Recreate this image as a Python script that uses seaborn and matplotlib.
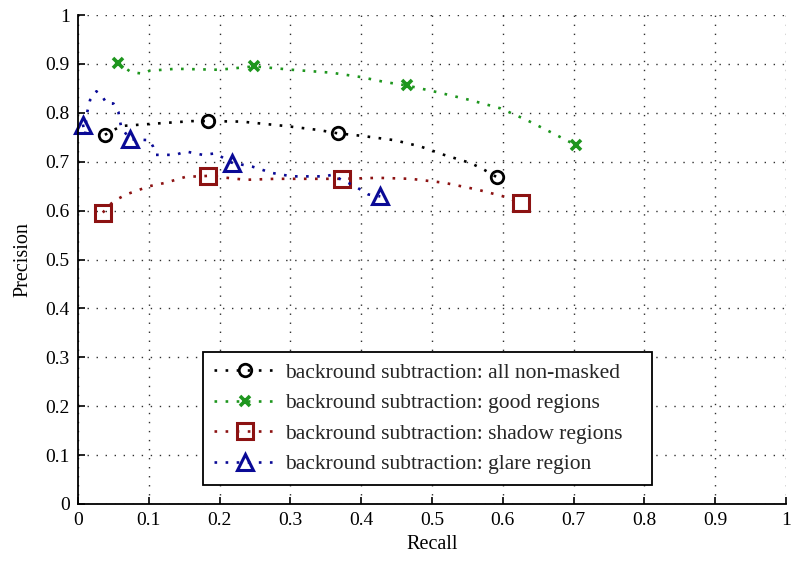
import numpy as np
import pandas as pd
import matplotlib
matplotlib.use("Agg")
import matplotlib.pyplot as plt
import seaborn as sns

# ---- data ----
all_recall = [0.038, 0.061, 0.110, 0.161, 0.184, 0.231, 0.293, 0.339, 0.367,
              0.400, 0.447, 0.484, 0.517, 0.555, 0.573, 0.592]
all_prec = [0.755, 0.773, 0.778, 0.783, 0.783, 0.782, 0.773, 0.765, 0.758,
            0.753, 0.744, 0.731, 0.714, 0.697, 0.684, 0.668]
all_marks = [0, 4, 8, 15]

good_recall = [0.057, 0.075, 0.092, 0.101, 0.138, 0.199, 0.249, 0.302, 0.358,
               0.400, 0.433, 0.464, 0.508, 0.554, 0.597, 0.634, 0.671, 0.703]
good_prec = [0.902, 0.883, 0.880, 0.886, 0.890, 0.888, 0.895, 0.888, 0.882,
             0.873, 0.863, 0.856, 0.842, 0.826, 0.809, 0.785, 0.758, 0.734]
good_marks = [0, 6, 11, 17]

shadow_recall = [0.035, 0.050, 0.068, 0.101, 0.124, 0.152, 0.184, 0.237, 0.279,
                 0.325, 0.373, 0.424, 0.470, 0.517, 0.564, 0.601, 0.625]
shadow_prec = [0.596, 0.619, 0.633, 0.650, 0.657, 0.669, 0.671, 0.663, 0.665,
               0.665, 0.665, 0.667, 0.665, 0.657, 0.643, 0.629, 0.616]
shadow_marks = [0, 6, 10, 16]

glare_recall = [0.007, 0.010, 0.012, 0.017, 0.026, 0.035, 0.040, 0.050, 0.057,
                0.059, 0.061, 0.073, 0.101, 0.106, 0.110, 0.138, 0.152, 0.176,
                0.194, 0.217, 0.246, 0.274, 0.302, 0.349, 0.358, 0.377, 0.391,
                0.410, 0.427]
glare_prec = [0.776, 0.755, 0.795, 0.826, 0.844, 0.832, 0.820, 0.819, 0.802,
              0.785, 0.771, 0.746, 0.744, 0.731, 0.714, 0.714, 0.721, 0.714,
              0.717, 0.698, 0.690, 0.677, 0.670, 0.670, 0.673, 0.660, 0.650,
              0.633, 0.629]
glare_marks = [0, 11, 19, 28]

labels = ["backround subtraction: all non-masked",
          "backround subtraction: good regions",
          "backround subtraction: shadow regions",
          "backround subtraction: glare region"]
ticks = [0, 0.1, 0.2, 0.3, 0.4, 0.5, 0.6, 0.7, 0.8, 0.9, 1]
tick_labels = ["0", "0.1", "0.2", "0.3", "0.4", "0.5", "0.6", "0.7", "0.8", "0.9", "1"]

series = [
    (all_recall, all_prec, all_marks, "#000000", "o", 9, 2.0),
    (good_recall, good_prec, good_marks, "#1e961e", "x", 7, 2.6),
    (shadow_recall, shadow_prec, shadow_marks, "#8c1212", "s", 11, 2.2),
    (glare_recall, glare_prec, glare_marks, "#0a0a96", "^", 12, 2.2),
]

sns.set_theme(style="white")
plt.rcParams["font.family"] = ["Liberation Serif", "DejaVu Serif"]

fig = plt.figure(figsize=(7.93, 5.62), dpi=100)
ax_left, ax_right = 78, 786
ax = fig.add_axes([ax_left / 793, 1 - 504 / 562, (ax_right - ax_left) / 793, 489 / 562])

for (rx, py, marks, col, mk, ms, mew), lab in zip(series, labels):
    df = pd.DataFrame({"Recall": rx, "Precision": py})
    sns.lineplot(data=df, x="Recall", y="Precision", ax=ax, sort=False,
                 estimator=None, color=col, linestyle=(0, (1.0, 3.2)),
                 linewidth=1.9, marker=mk, markevery=marks, markersize=ms,
                 markerfacecolor="none" if mk != "x" else col,
                 markeredgecolor=col, markeredgewidth=mew, label=lab)

ax.set_xlim(0, 1)
ax.set_ylim(0, 1)
ax.set_xticks(ticks)
ax.set_xticklabels(tick_labels)
ax.set_yticks(ticks)
ax.set_yticklabels(tick_labels)
ax.grid(True, color="#303030", linestyle=(0, (1, 5.5)), linewidth=1.0)
for s in ["top", "right"]:
    ax.spines[s].set_visible(False)
for s in ["left", "bottom"]:
    ax.spines[s].set_color("black")
    ax.spines[s].set_linewidth(1.3)
ax.tick_params(direction="in", length=5, width=1.2, colors="black",
               labelsize=14, left=True, bottom=True, pad=6)
ax.set_xlabel("Recall", fontsize=14.5, color="black", labelpad=4)
ax.set_ylabel("Precision", fontsize=14.5, color="black", labelpad=9)
for ln in ax.get_lines():
    ln.set_clip_on(False)

span = ax_right - ax_left
leg = ax.legend(loc="lower left",
                bbox_to_anchor=((203 - ax_left) / span, 0.039,
                                (652 - 203) / span, 0.27),
                mode="expand",
                borderaxespad=0, fontsize=15.5, frameon=True, fancybox=False,
                framealpha=1, edgecolor="black", handlelength=2.9,
                handletextpad=0.4, labelspacing=0.48, borderpad=0.5)
leg.get_frame().set_linewidth(1.3)

fig.savefig("out.png", dpi=100, facecolor="white")
